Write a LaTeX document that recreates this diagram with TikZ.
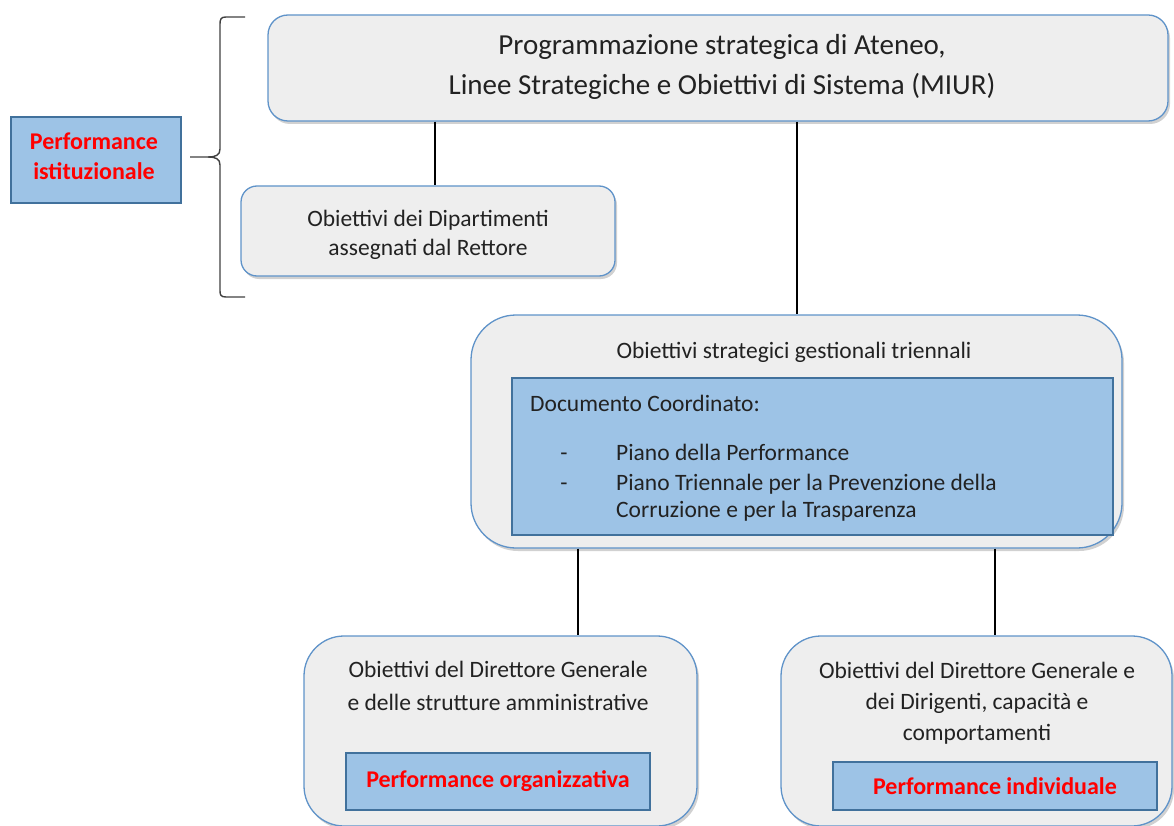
\documentclass[tikz,border=0pt]{standalone}
\usepackage{fontspec}
\setmainfont{Carlito}
\usetikzlibrary{shadows}
\definecolor{boxblue}{HTML}{9DC3E6}
\definecolor{boxedge}{HTML}{41719C}
\definecolor{roundedge}{HTML}{5F93C9}
\definecolor{roundfill}{HTML}{EEEEEE}
\definecolor{perfred}{HTML}{FF0000}
\definecolor{txtgray}{HTML}{222222}
\tikzset{
  rbox/.style={draw=roundedge, line width=1.3, fill=roundfill, rounded corners=#1, inner sep=0,
    drop shadow={shadow xshift=2pt, shadow yshift=-3pt, opacity=0.18, fill=black}},
  bbox/.style={draw=boxedge, line width=1.2, fill=boxblue, inner sep=0},
  conn/.style={draw=black, line width=1.3},
  txt/.style={font=\fontsize{23.5}{29}\selectfont, text=txtgray, inner sep=0},
  bigtxt/.style={font=\fontsize{29}{40}\selectfont, text=txtgray, inner sep=0},
  redtxt/.style={font=\fontsize{24}{30}\selectfont\bfseries, text=perfred},
}
\begin{document}
\begin{tikzpicture}[x=1pt,y=-1pt]
\useasboundingbox (0,0) rectangle (1174,826);
\coordinate (cA) at (435,0);
\coordinate (cB) at (797,0);
\coordinate (cC) at (578,0);
\coordinate (cD) at (995,0);

% left box
\node[bbox, minimum width=170, minimum height=86] (pi) at (96,160) {};
\node[redtxt, align=center, inner sep=0] (pitxt) at (94,156) {Performance\\istituzionale};

% brace
\draw[line width=1.4, black!75, line join=round]
  (245,17) -- (226,17) .. controls (221,17) and (220,19) .. (220,24) -- (220,149)
  .. controls (220,155) and (216,157) .. (208,157) -- (190,157);
\draw[line width=1.4, black!75, line join=round]
  (208,157) .. controls (216,157) and (220,159) .. (220,165) -- (220,291)
  .. controls (220,295) and (221,297) .. (226,297) -- (245,297);

% top box
\node[rbox=20, minimum width=900, minimum height=106] (top) at (718,68) {};
\node[bigtxt, align=center] (toptxt) at (722,67)
  {Programmazione strategica di Ateneo,\\Linee Strategiche e Obiettivi di Sistema (MIUR)};

% department box
\node[rbox=16, minimum width=374, minimum height=90] (dept) at (428,231) {};
\node[txt, align=center] (depttxt) at (428,235)
  {Obiettivi dei Dipartimenti\\assegnati dal Rettore};

% middle box
\node[rbox=45, minimum width=651, minimum height=233] (mid) at (796.5,431.5) {};
\node[txt] (midtitle) at (794,352) {Obiettivi strategici gestionali triennali};
\node[bbox, minimum width=601, minimum height=157] (doc) at (812.5,456.5) {};
\node[txt, anchor=base west] (doct) at (530,411) {Documento Coordinato:};
\node[txt, anchor=base] (d1) at (564,460) {-};
\node[txt, anchor=base] (d2) at (564,490) {-};
\node[txt, anchor=base west] (i1) at (616,460) {Piano della Performance};
\node[txt, anchor=base west] (i2) at (616,490) {Piano Triennale per la Prevenzione della};
\node[txt, anchor=base west] (i3) at (616,517) {Corruzione e per la Trasparenza};

% bottom left box
\node[rbox=40, minimum width=393, minimum height=190] (bl) at (500.5,731) {};
\node[txt, align=center, font=\fontsize{23.5}{33}\selectfont] (bltxt) at (498,686)
  {Obiettivi del Direttore Generale\\e delle strutture amministrative};
\node[bbox, minimum width=304, minimum height=57, redtxt] (org) at (498,781.5)
  {Performance organizzativa};

% bottom right box
\node[rbox=40, minimum width=391, minimum height=190] (br) at (976.5,731) {};
\node[txt, align=center, font=\fontsize{23.5}{31}\selectfont] (brtxt) at (977,703)
  {Obiettivi del Direttore Generale e\\dei Dirigenti, capacità e\\comportamenti};
\node[bbox, minimum width=324, minimum height=48, redtxt] (ind) at (995,786)
  {Performance individuale};

% connectors
\draw[conn] (top.south -| cA) -- (dept.north -| cA);
\draw[conn] (top.south -| cB) -- (mid.north -| cB);
\draw[conn] (mid.south -| cC) -- (bl.north -| cC);
\draw[conn] (mid.south -| cD) -- (br.north -| cD);
\end{tikzpicture}
\end{document}
